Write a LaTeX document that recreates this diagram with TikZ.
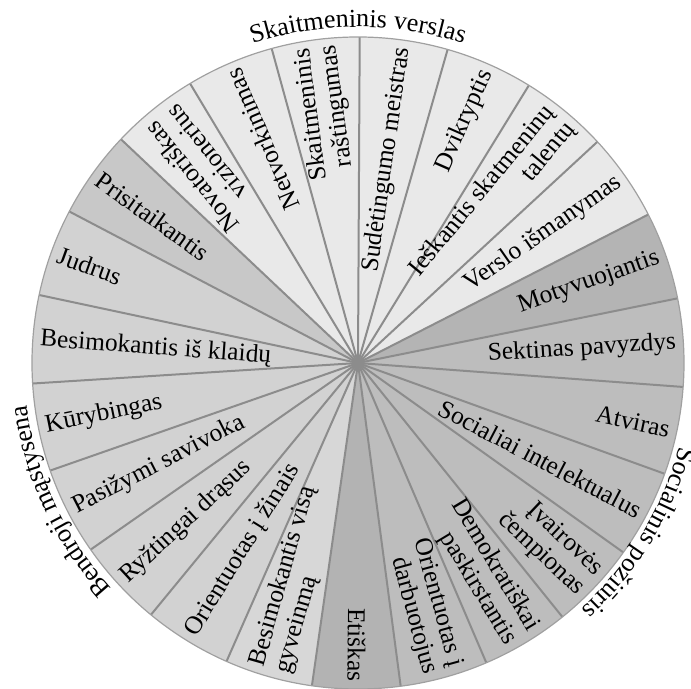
\documentclass[tikz,border=0pt]{standalone}
\usepackage{fontspec}
\setmainfont{Liberation Serif}
\usetikzlibrary{decorations.text}

\newcommand\wedgefont{\fontsize{12.7}{13.4}\selectfont}
\newcommand\ringfont{\fontsize{13}{15}\selectfont}

\definecolor{bizfill}{HTML}{E9E9E9}
\definecolor{adaptfill}{HTML}{C8C8C8}
\definecolor{mindfill}{HTML}{D2D2D2}
\definecolor{lifefill}{HTML}{D7D7D7}
\definecolor{ethicfill}{HTML}{B3B3B3}
\definecolor{socfill}{HTML}{BDBDBD}
\definecolor{motivfill}{HTML}{B4B4B4}
\definecolor{spokegray}{HTML}{8C8C8C}
\definecolor{rimgray}{HTML}{A0A0A0}

\begin{document}
\begin{tikzpicture}[x=0.5pt,y=0.5pt,
  spoke/.style={draw=spokegray, line width=1pt},
  rim/.style={draw=rimgray, line width=0.6pt},
  lbl/.style={font=\wedgefont, inner sep=0pt, text=black},
  outward/.style={lbl, anchor=east, align=right},
  inward/.style={lbl, anchor=west, align=left},
  ringlabel/.style={decorate, decoration={text along path, text align=center, text={|\ringfont|#1}}}]
\useasboundingbox (-358,-326) rectangle (333,363);

% 23 equal wedges, first boundary just left of the vertical
\foreach \c [count=\i from 0] in {bizfill,bizfill,bizfill,adaptfill,mindfill,mindfill,mindfill,mindfill,mindfill,mindfill,lifefill,ethicfill,socfill,socfill,socfill,socfill,socfill,socfill,motivfill,bizfill,bizfill,bizfill,bizfill}{
  \pgfmathsetmacro\aa{89.7+15.652*\i}
  \pgfmathsetmacro\bb{89.7+15.652*(\i+1)}
  \fill[\c] (0,0) -- (\aa:326) arc[start angle=\aa, end angle=\bb, radius=326] -- cycle;
}
\foreach \i in {0,...,22}{
  \draw[spoke] (0,0) -- ({89.7+15.652*\i}:326);
}
\draw[rim] (0,0) circle[radius=326];

% Skaitmeninis verslas
\node[outward, rotate=97.53] (raštingumas) at (97.53:319) {Skaitmeninis\\raštingumas};
\node[outward, rotate=113.18] (netvorkinimas) at (113.18:319) {Netvorkinimas};
\node[outward, rotate=128.83] (novatoriskas) at (128.83:316) {Novatoriškas\\vizionerius};
\node[outward, rotate=34.91] (verslo) at (34.91:319) {Verslo išmanymas};
\node[outward, rotate=50.57] (talentu) at (50.57:319) {Ieškantis skatmeninų\\talentų};
\node[outward, rotate=66.22] (dvikryptis) at (66.22:319) {Dvikryptis};
\node[outward, rotate=81.87] (sudetingumo) at (81.87:319) {Sudėtingumo meistras};

% Bendroji mąstysena
\node[inward, rotate=-35.52] (prisitaikantis) at (144.48:319) {Prisitaikantis};
\node[inward, rotate=-19.87] (judrus) at (160.13:319) {Judrus};
\node[inward, rotate=-4.21] (klaidu) at (175.79:319) {Besimokantis iš klaidų};
\node[inward, rotate=11.44] (kurybingas) at (191.44:319) {Kūrybingas};
\node[inward, rotate=27.09] (savivoka) at (207.09:319) {Pasižymi savivoka};
\node[inward, rotate=42.74] (drasus) at (222.74:319) {Ryžtingai drąsus};
\node[inward, rotate=58.39] (zinais) at (238.39:319) {Orientuotas į žinais};
\node[inward, rotate=74.05] (gyvenima) at (254.05:319) {Besimokantis visą\\gyveinmą};

% Socialinis požiūris
\node[outward, rotate=269.70] (etiskas) at (269.70:319) {Etiškas};
\node[outward, rotate=285.35] (darbuotojus) at (285.35:319) {Orientuotas į\\darbuotojus};
\node[outward, rotate=301.00] (demokratiskai) at (301.00:319) {Demokratiškai\\paskirstantis};
\node[outward, rotate=316.65] (ivairoves) at (316.65:319) {Įvairovės\\čempionas};
\node[outward, rotate=332.31] (socialiai) at (332.31:319) {Socialiai intelektualus};
\node[outward, rotate=347.96] (atviras) at (347.96:319) {Atviras};
\node[outward, rotate=3.61] (sektinas) at (3.61:319) {Sektinas pavyzdys};
\node[outward, rotate=19.26] (motyvuojantis) at (19.26:319) {Motyvuojantis};

% group titles around the rim
\path[ringlabel={Skaitmeninis verslas}] (115:336) arc[start angle=115, end angle=65, radius=336];
\path[ringlabel={Bendroji mąstysena}] (229.9:334) arc[start angle=229.9, end angle=179.9, radius=334];
\path[ringlabel={Socialinis požiūris}] (-6.2:332) arc[start angle=-6.2, end angle=-56.2, radius=332];
\end{tikzpicture}
\end{document}
